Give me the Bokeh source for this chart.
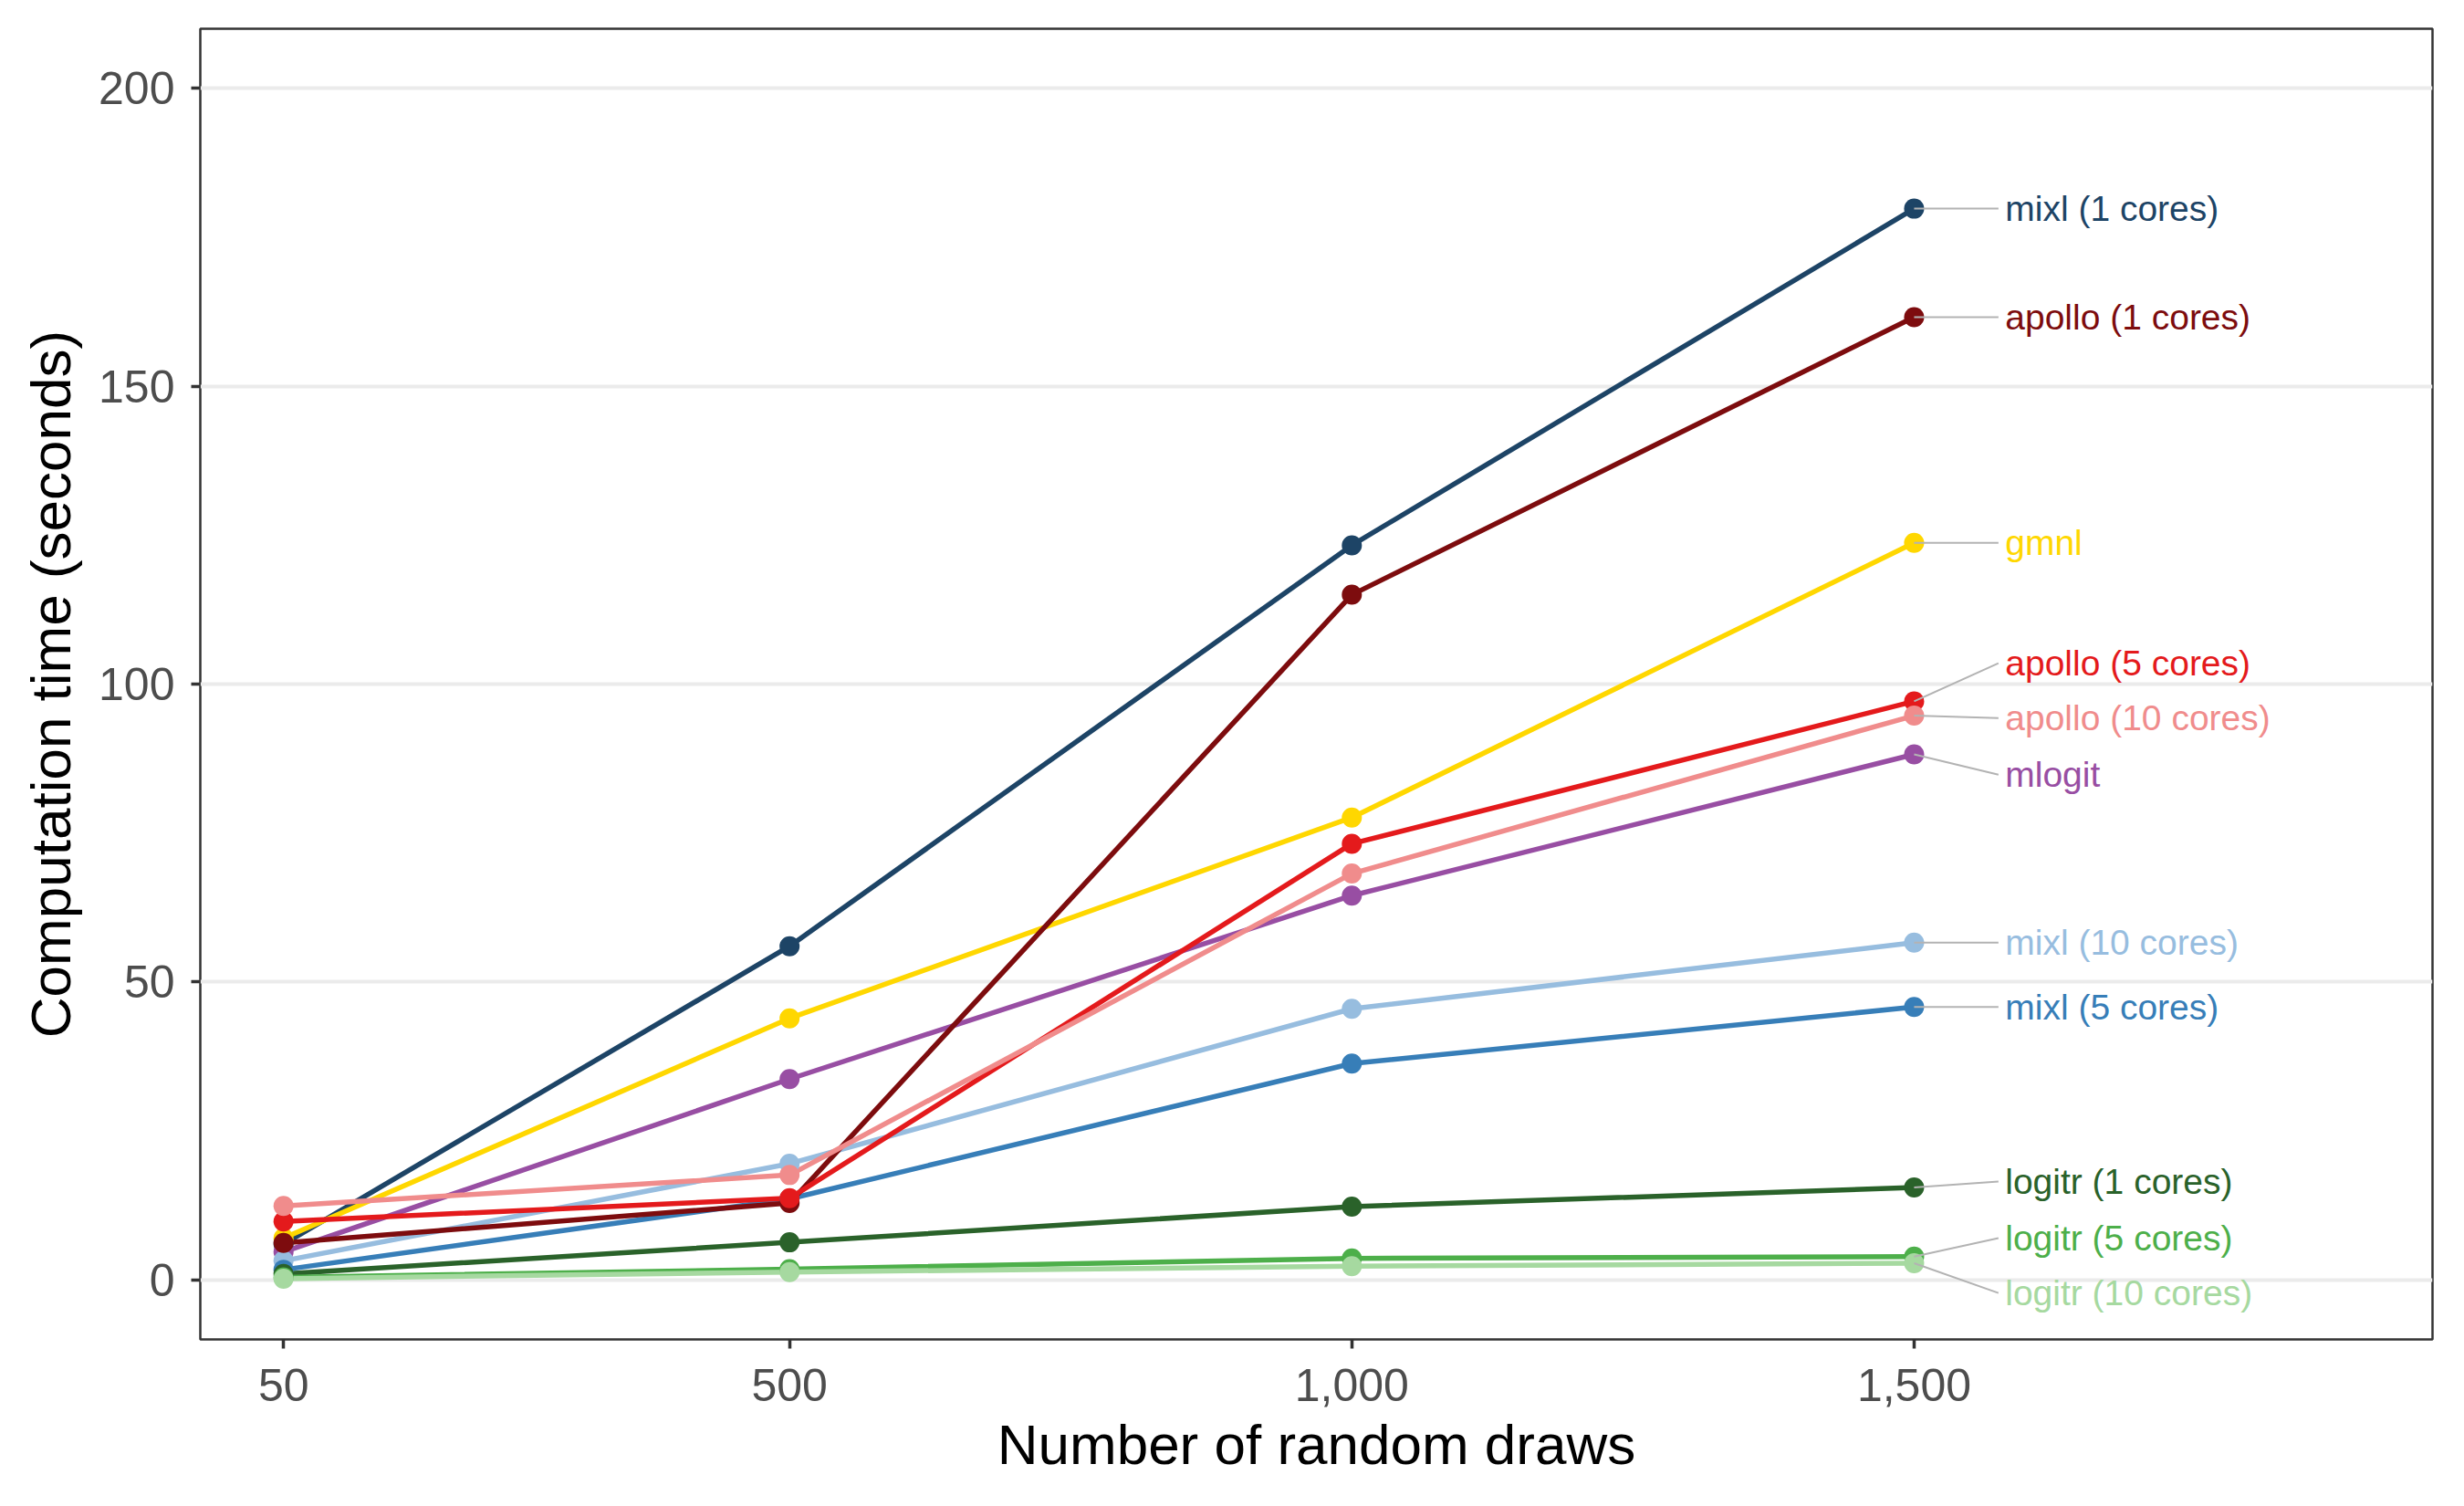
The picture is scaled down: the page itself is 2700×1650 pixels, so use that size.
from bokeh.plotting import figure
from bokeh.models import Range1d, FixedTicker, ColumnDataSource
from bokeh.core.properties import value
from bokeh.embed import file_html
from bokeh.resources import INLINE

# ---- data ----
draws = [50, 500, 1000, 1500]
x_tick_labels = ["50", "500", "1,000", "1,500"]
y_ticks = [0, 50, 100, 150, 200]

series_names = [
    "mixl (1 cores)", "gmnl", "mlogit", "mixl (10 cores)", "mixl (5 cores)",
    "logitr (1 cores)", "logitr (5 cores)", "logitr (10 cores)",
    "apollo (1 cores)", "apollo (5 cores)", "apollo (10 cores)",
]
mixl_1 = [6.0, 56.0, 123.3, 179.8]
gmnl = [7.0, 43.9, 77.6, 123.7]
mlogit = [4.7, 33.7, 64.5, 88.2]
mixl_10 = [3.2, 19.5, 45.5, 56.6]
mixl_5 = [1.7, 13.6, 36.3, 45.8]
logitr_1 = [1.0, 6.3, 12.3, 15.5]
logitr_5 = [0.4, 1.8, 3.6, 3.9]
logitr_10 = [0.2, 1.3, 2.3, 2.8]
apollo_1 = [6.2, 12.9, 115.0, 161.6]
apollo_5 = [9.8, 13.7, 73.2, 97.1]
apollo_10 = [12.4, 17.6, 68.2, 94.7]
series_values = [mixl_1, gmnl, mlogit, mixl_10, mixl_5, logitr_1, logitr_5,
                 logitr_10, apollo_1, apollo_5, apollo_10]

colors = ["#1d4466", "#ffd700", "#984ea3", "#97bddf", "#377eb8",
          "#2a622a", "#4daf4a", "#a6d9a0", "#7d0c0e", "#e41a1c", "#f08c8c"]
# label vertical nudges (repel layout), in axis units
label_nudge = [0.0, 0.0, -3.4, 0.0, 0.0, 1.0, 3.1, -5.0, 0.0, 6.4, -0.4]

FONT = "Liberation Sans"

p = figure(width=2684, height=1634,
           x_range=Range1d(-24, 1961), y_range=Range1d(-10, 210),
           output_backend="svg", toolbar_location=None,
           min_border_left=219, min_border_right=19,
           min_border_top=31, min_border_bottom=167)

p.background_fill_color = "white"
p.outline_line_color = "#333333"
p.outline_line_width = 2.5

p.xgrid.grid_line_color = None
p.ygrid.grid_line_color = "#ebebeb"
p.ygrid.grid_line_width = 4

for ax in (p.xaxis[0], p.yaxis[0]):
    ax.axis_line_color = None
    ax.major_tick_line_color = "#333333"
    ax.major_tick_line_width = 3.5
    ax.major_tick_out = 10
    ax.major_tick_in = 0
    ax.minor_tick_line_color = None
    ax.major_label_text_color = "#4d4d4d"
    ax.major_label_text_font = FONT
    ax.major_label_text_font_size = "50px"
    ax.axis_label_text_font = FONT
    ax.axis_label_text_font_size = "62px"
    ax.axis_label_text_font_style = "normal"
    ax.axis_label_text_color = "black"

p.xaxis.ticker = FixedTicker(ticks=draws)
p.xaxis.major_label_overrides = {d: lab for d, lab in zip(draws, x_tick_labels)}
p.xaxis.axis_label = "Number of random draws"
p.xaxis.major_label_standoff = 22
p.xaxis.axis_label_standoff = 10

p.yaxis.ticker = FixedTicker(ticks=y_ticks)
p.yaxis.axis_label = "Computation time (seconds)"
p.yaxis.major_label_standoff = 18
p.yaxis.axis_label_standoff = 15

# lines
for vals, col in zip(series_values, colors):
    p.line(draws, vals, line_color=col, line_width=5.5)
# points
for vals, col in zip(series_values, colors):
    p.scatter(draws, vals, size=22, fill_color=col, line_color=col, line_width=0)

# labels with connectors
last_x = draws[-1]
seg_end = last_x + 75
text_x = last_x + 81
lab_src = ColumnDataSource(dict(
    x0=[last_x] * len(series_names),
    y0=[v[-1] for v in series_values],
    x1=[seg_end] * len(series_names),
    y1=[v[-1] + n for v, n in zip(series_values, label_nudge)],
    tx=[text_x] * len(series_names),
    name=series_names,
    color=colors,
))
p.segment(x0="x0", y0="y0", x1="x1", y1="y1", source=lab_src,
          line_color="#b3b3b3", line_width=2)
p.text(x="tx", y="y1", text="name", source=lab_src, text_color="color",
       text_font=value(FONT), text_font_size="39px",
       text_align="left", text_baseline="middle")

open("out.html", "w").write(file_html(p, INLINE))
